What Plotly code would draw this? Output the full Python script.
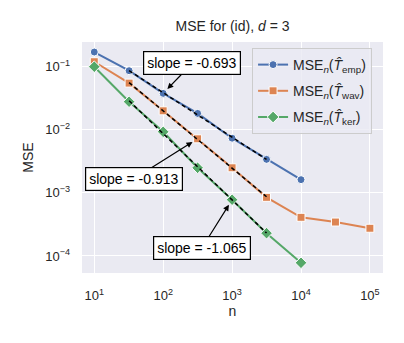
import numpy as np
import plotly.graph_objects as go

# ---- data ----
n_emp = [10, 32, 100, 316, 1000, 3162, 10000]
mse_emp = [0.171, 0.0865, 0.0378, 0.0182, 0.00736, 0.0034, 0.00162]

n_wav = [10, 32, 100, 316, 1000, 3162, 10000, 31623, 100000]
mse_wav = [0.12, 0.055, 0.020, 0.0072, 0.0025, 0.00085, 0.00041, 0.000345, 0.000275]

n_ker = [10, 32, 100, 316, 1000, 3162, 10000]
mse_ker = [0.10, 0.0279, 0.0093, 0.0025, 0.00078, 0.00023, 0.000078]

series_names = [
    "MSE<sub><i>n</i></sub>(<i>T̂</i><sub>emp</sub>)",
    "MSE<sub><i>n</i></sub>(<i>T̂</i><sub>wav</sub>)",
    "MSE<sub><i>n</i></sub>(<i>T̂</i><sub>ker</sub>)",
]
slope_labels = ["slope = -0.693", "slope = -0.913", "slope = -1.065"]
x_tickvals = [10, 100, 1000, 10000, 100000]
x_ticktext = ["10<sup>1</sup>", "10<sup>2</sup>", "10<sup>3</sup>", "10<sup>4</sup>", "10<sup>5</sup>"]
y_tickvals = [1e-4, 1e-3, 1e-2, 1e-1]
y_ticktext = ["10<sup>−4</sup>", "10<sup>−3</sup>", "10<sup>−2</sup>", "10<sup>−1</sup>"]
fit_lo, fit_hi = 32, 3162
# annotation anchor: index of the point the arrow points at
anchor_idx = [2, 3, 4]

colors = ["#4C72B0", "#DD8452", "#55A868"]
symbols = ["circle", "square", "diamond"]
msizes = [8, 8, 9]
FONT = "Liberation Sans, Arial, sans-serif"
TXT = "#262626"

fig = go.Figure()
all_series = [(n_emp, mse_emp), (n_wav, mse_wav), (n_ker, mse_ker)]
for i, (xs, ys) in enumerate(all_series):
    fig.add_trace(go.Scatter(
        x=xs, y=ys, mode="lines+markers", name=series_names[i],
        legendgroup=f"g{i}",
        line=dict(color=colors[i], width=2),
        marker=dict(symbol=symbols[i], size=msizes[i], color=colors[i],
                    line=dict(color="white", width=1)),
    ))

# dashed fitted lines
for i, (xs, ys) in enumerate(all_series):
    xa = np.array(xs, float); ya = np.array(ys, float)
    m = (xa >= fit_lo) & (xa <= fit_hi)
    p = np.polyfit(np.log10(xa[m]), np.log10(ya[m]), 1)
    xf = xa[m]
    yf = 10 ** np.polyval(p, np.log10(xf))
    fig.add_trace(go.Scatter(
        x=xf, y=yf, mode="lines", showlegend=False, hoverinfo="skip",
        legendgroup=f"g{i}",
        line=dict(color="black", width=1.5, dash="4px,3px"),
    ))

offsets = [(29, -30), (-64, 40), (-30, 48)]
for i, (xs, ys) in enumerate(all_series):
    k = anchor_idx[i]
    fig.add_annotation(
        x=np.log10(xs[k]), y=np.log10(ys[k]), xref="x", yref="y",
        text=slope_labels[i], showarrow=True, arrowhead=2, arrowsize=1,
        arrowwidth=1.2, arrowcolor="black", standoff=6,
        ax=offsets[i][0], ay=offsets[i][1],
        font=dict(family=FONT, size=14, color="black"),
        bgcolor="white", bordercolor="black", borderwidth=1.2, borderpad=3,
    )

# page body has an 8px margin: shift everything up/left by 8
fig.update_layout(
    width=396, height=335,
    margin=dict(l=74, r=21, t=34, b=70),
    paper_bgcolor="white", plot_bgcolor="#EAEAF2",
    font=dict(family=FONT, size=12, color=TXT),
    title=dict(text="MSE for (id), <i>d</i> = 3", x=0.5, xref="paper", xanchor="center",
               y=1 - 18 / 335, yanchor="middle",
               font=dict(size=14, color=TXT)),
    showlegend=True,
    legend=dict(x=0.565, y=0.974, xanchor="left", yanchor="top",
                bgcolor="rgba(234,234,242,0.8)", bordercolor="#CCCCCC",
                borderwidth=1, font=dict(size=14), itemwidth=30,
                traceorder="grouped", tracegroupgap=5),
)
fig.update_xaxes(
    type="log", range=[0.822, 5.19],
    tickmode="array", tickvals=x_tickvals, ticktext=x_ticktext,
    showgrid=True, gridcolor="white", gridwidth=1.2,
    zeroline=False, showline=False, ticks="", automargin=False,
    ticklabelstandoff=13, tickfont=dict(size=13),
    title=dict(text="n", font=dict(size=14), standoff=4),
)
fig.update_yaxes(
    type="log", range=[-4.27, -0.608],
    tickmode="array", tickvals=y_tickvals, ticktext=y_ticktext,
    showgrid=True, gridcolor="white", gridwidth=1.2,
    zeroline=False, showline=False, ticks="", automargin=False,
    ticklabelstandoff=11, tickfont=dict(size=13),
    title=dict(text="MSE", font=dict(size=14), standoff=8),
)

fig.write_html("out.html")
